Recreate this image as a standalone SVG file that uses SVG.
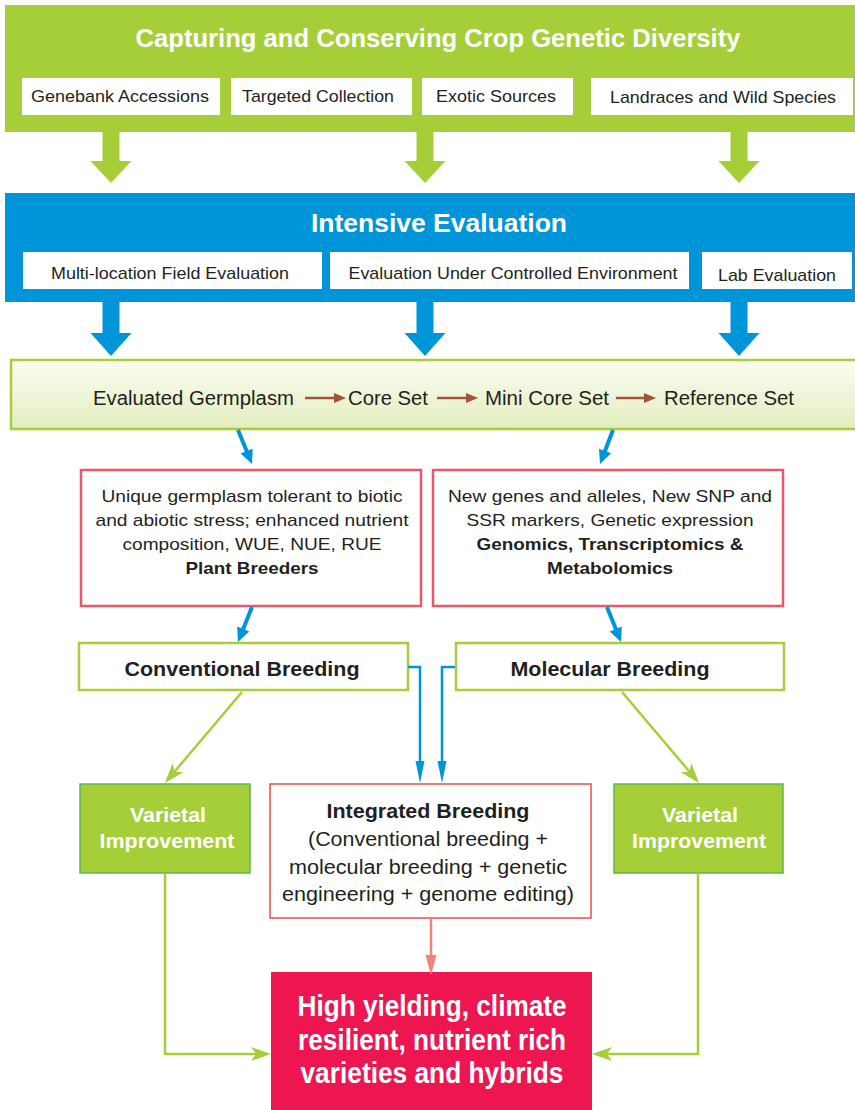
<svg xmlns="http://www.w3.org/2000/svg" width="855" height="1110" viewBox="0 0 855 1110">
<style>
text{font-family:"Liberation Sans",Arial,sans-serif;fill:#231f20;text-anchor:middle}
.b{font-weight:bold}
.w{fill:#fff}
.lbl{font-size:17px}
.wbox{fill:#fff}
.pink{fill:#fff;stroke:#e9566d;stroke-width:2.5}
.gbox{fill:#fff;stroke:#a6ce39;stroke-width:2.5}
.vbox{fill:#a6ce39;stroke:#5cb947;stroke-width:1.5}
.thickBlue{stroke:#0095d9;stroke-width:4;fill:none}
.thinBlue{stroke:#0095d9;stroke-width:2.5;fill:none}
.green{stroke:#a6ce39;stroke-width:2.5;fill:none}
.salmon{stroke:#f28379;stroke-width:2.5;fill:none}
.brown{stroke:#a4523a;stroke-width:2.5;fill:none}
</style>
<defs>
<linearGradient id="bandGrad" x1="0" y1="0" x2="0" y2="1">
<stop offset="0" stop-color="#fbfdf3"/>
<stop offset="1" stop-color="#e2edbe"/>
</linearGradient>
<marker id="ahBlue" markerUnits="userSpaceOnUse" viewBox="-10 -10 30 20" refX="0" refY="0" markerWidth="30" markerHeight="20" orient="auto" overflow="visible">
<path d="M10,0 L-4,-6.5 L-4,6.5 z" fill="#0095d9"/>
</marker>
<marker id="ahBlueThin" markerUnits="userSpaceOnUse" viewBox="-10 -10 40 20" refX="0" refY="0" markerWidth="40" markerHeight="20" orient="auto" overflow="visible">
<path d="M20,0 L-2,-4.5 L-2,4.5 z" fill="#0095d9"/>
</marker>
<marker id="ahGreen" markerUnits="userSpaceOnUse" viewBox="-10 -10 30 20" refX="0" refY="0" markerWidth="30" markerHeight="20" orient="auto" overflow="visible">
<path d="M14,0 L-6,-7 L-1,0 L-6,7 z" fill="#a6ce39"/>
</marker>
<marker id="ahSalmon" markerUnits="userSpaceOnUse" viewBox="-10 -10 40 20" refX="0" refY="0" markerWidth="40" markerHeight="20" orient="auto" overflow="visible">
<path d="M18,0 L-2,-5.5 L-2,5.5 z" fill="#f28379"/>
</marker>
<marker id="ahBrown" markerUnits="userSpaceOnUse" viewBox="-10 -10 30 20" refX="0" refY="0" markerWidth="30" markerHeight="20" orient="auto" overflow="visible">
<path d="M10,0 L-2,-5 L-2,5 z" fill="#a4523a"/>
</marker>
</defs>
<rect width="855" height="1110" fill="#fff"/>

<g id="capture">
<rect x="5" y="5" width="850" height="127" fill="#a6ce39"/>
<text x="438" y="47" class="b w" font-size="26" textLength="605" lengthAdjust="spacingAndGlyphs">Capturing and Conserving Crop Genetic Diversity</text>
<rect class="wbox" x="22" y="78" width="198" height="37"/>
<rect class="wbox" x="231" y="78" width="181" height="37"/>
<rect class="wbox" x="422" y="78" width="151" height="37"/>
<rect class="wbox" x="591" y="78" width="262" height="37"/>
<text class="lbl" x="120" y="102" textLength="178" lengthAdjust="spacingAndGlyphs">Genebank Accessions</text>
<text class="lbl" x="318" y="102" textLength="152" lengthAdjust="spacingAndGlyphs">Targeted Collection</text>
<text class="lbl" x="496" y="102" textLength="120" lengthAdjust="spacingAndGlyphs">Exotic Sources</text>
<text class="lbl" x="723" y="103" textLength="226" lengthAdjust="spacingAndGlyphs">Landraces and Wild Species</text>
</g>

<g id="capture-arrows" fill="#a6ce39">
<polygon points="102.5,132 119.5,132 119.5,161 131.5,161 111,183 90.5,161 102.5,161"/>
<polygon points="416.5,132 433.5,132 433.5,161 445.5,161 425,183 404.5,161 416.5,161"/>
<polygon points="730.5,132 747.5,132 747.5,161 759.5,161 739,183 718.5,161 730.5,161"/>
</g>

<g id="evaluation">
<rect x="5" y="193" width="850" height="109" fill="#0095d9"/>
<text x="439" y="232" class="b w" font-size="26" textLength="256" lengthAdjust="spacingAndGlyphs">Intensive Evaluation</text>
<rect class="wbox" x="23" y="252" width="299" height="37"/>
<rect class="wbox" x="330" y="252" width="359" height="37"/>
<rect class="wbox" x="702" y="252" width="150" height="37"/>
<text class="lbl" x="170" y="279" textLength="238" lengthAdjust="spacingAndGlyphs">Multi-location Field Evaluation</text>
<text class="lbl" x="513" y="279" textLength="329" lengthAdjust="spacingAndGlyphs">Evaluation Under Controlled Environment</text>
<text class="lbl" x="777" y="281" textLength="118" lengthAdjust="spacingAndGlyphs">Lab Evaluation</text>
</g>

<g id="evaluation-arrows" fill="#0095d9">
<polygon points="102.5,302 119.5,302 119.5,333 131.5,333 111,356 90.5,333 102.5,333"/>
<polygon points="416.5,302 433.5,302 433.5,333 445.5,333 425,356 404.5,333 416.5,333"/>
<polygon points="730.5,302 747.5,302 747.5,333 759.5,333 739,356 718.5,333 730.5,333"/>
</g>

<g id="germplasm">
<rect x="11" y="360" width="846" height="69" fill="url(#bandGrad)" stroke="#a6ce39" stroke-width="2.5"/>
<text x="193.5" y="405" font-size="20" textLength="201" lengthAdjust="spacingAndGlyphs">Evaluated Germplasm</text>
<text x="388" y="405" font-size="20" textLength="80" lengthAdjust="spacingAndGlyphs">Core Set</text>
<text x="547" y="405" font-size="20" textLength="124" lengthAdjust="spacingAndGlyphs">Mini Core Set</text>
<text x="729" y="405" font-size="20" textLength="130" lengthAdjust="spacingAndGlyphs">Reference Set</text>
<line class="brown" x1="305" y1="398" x2="336" y2="398" marker-end="url(#ahBrown)"/>
<line class="brown" x1="437" y1="398" x2="468" y2="398" marker-end="url(#ahBrown)"/>
<line class="brown" x1="616" y1="398" x2="646" y2="398" marker-end="url(#ahBrown)"/>
</g>

<g id="unique-germplasm">
<rect class="pink" x="81" y="470" width="340" height="136"/>
<text x="252" y="502" font-size="17" textLength="301" lengthAdjust="spacingAndGlyphs">Unique germplasm tolerant to biotic</text>
<text x="252" y="526" font-size="17" textLength="313" lengthAdjust="spacingAndGlyphs">and abiotic stress; enhanced nutrient</text>
<text x="252" y="550" font-size="17" textLength="259" lengthAdjust="spacingAndGlyphs">composition, WUE, NUE, RUE</text>
<text x="252" y="574" font-size="17" class="b" textLength="133" lengthAdjust="spacingAndGlyphs">Plant Breeders</text>
</g>

<g id="new-genes">
<rect class="pink" x="433" y="470" width="350" height="136"/>
<text x="610" y="502" font-size="17" textLength="324" lengthAdjust="spacingAndGlyphs">New genes and alleles, New SNP and</text>
<text x="610" y="526" font-size="17" textLength="287" lengthAdjust="spacingAndGlyphs">SSR markers, Genetic expression</text>
<text x="610" y="550" font-size="17" class="b" textLength="267" lengthAdjust="spacingAndGlyphs">Genomics, Transcriptomics &amp;</text>
<text x="610" y="574" font-size="17" class="b" textLength="126" lengthAdjust="spacingAndGlyphs">Metabolomics</text>
</g>

<g id="conventional">
<rect class="gbox" x="79" y="643" width="329" height="47"/>
<text x="242" y="676" font-size="21" class="b" textLength="235" lengthAdjust="spacingAndGlyphs">Conventional Breeding</text>
</g>

<g id="molecular">
<rect class="gbox" x="456" y="643" width="328" height="47"/>
<text x="610" y="676" font-size="21" class="b" textLength="199" lengthAdjust="spacingAndGlyphs">Molecular Breeding</text>
</g>

<g id="varietal-left">
<rect class="vbox" x="80" y="784" width="170" height="89"/>
<text x="168" y="822" font-size="21" class="b w" textLength="76" lengthAdjust="spacingAndGlyphs">Varietal</text>
<text x="167" y="848" font-size="21" class="b w" textLength="135" lengthAdjust="spacingAndGlyphs">Improvement</text>
</g>

<g id="varietal-right">
<rect class="vbox" x="614" y="784" width="169" height="89"/>
<text x="700" y="822" font-size="21" class="b w" textLength="76" lengthAdjust="spacingAndGlyphs">Varietal</text>
<text x="699" y="848" font-size="21" class="b w" textLength="134" lengthAdjust="spacingAndGlyphs">Improvement</text>
</g>

<g id="integrated">
<rect x="270" y="784" width="321" height="134" fill="#fff" stroke="#e94b4f" stroke-width="1.5"/>
<text x="428" y="818" font-size="20" class="b" textLength="203" lengthAdjust="spacingAndGlyphs">Integrated Breeding</text>
<text x="428" y="846" font-size="20" textLength="240" lengthAdjust="spacingAndGlyphs">(Conventional breeding +</text>
<text x="428" y="874" font-size="20" textLength="278" lengthAdjust="spacingAndGlyphs">molecular breeding + genetic</text>
<text x="428" y="901" font-size="20" textLength="292" lengthAdjust="spacingAndGlyphs">engineering + genome editing)</text>
</g>

<g id="outcome">
<rect x="271" y="972" width="321" height="140" fill="#ed1651"/>
<text x="432" y="1016" font-size="29" class="b w" textLength="269" lengthAdjust="spacingAndGlyphs">High yielding, climate</text>
<text x="432" y="1050" font-size="29" class="b w" textLength="268" lengthAdjust="spacingAndGlyphs">resilient, nutrient rich</text>
<text x="432" y="1083" font-size="29" class="b w" textLength="263" lengthAdjust="spacingAndGlyphs">varieties and hybrids</text>
</g>

<g id="connectors">
<line class="thickBlue" x1="238" y1="430" x2="248.2" y2="454.8" marker-end="url(#ahBlue)"/>
<line class="thickBlue" x1="613" y1="430" x2="603.6" y2="454.7" marker-end="url(#ahBlue)"/>
<line class="thickBlue" x1="252" y1="607" x2="241.7" y2="632.7" marker-end="url(#ahBlue)"/>
<line class="thickBlue" x1="607" y1="607" x2="617.3" y2="632.7" marker-end="url(#ahBlue)"/>
<path class="thinBlue" d="M408,667 H420 V763" marker-end="url(#ahBlueThin)"/>
<path class="thinBlue" d="M455,667 H442 V763" marker-end="url(#ahBlueThin)"/>
<line class="green" x1="242" y1="692" x2="174" y2="772.3" marker-end="url(#ahGreen)"/>
<line class="green" x1="622" y1="692" x2="690" y2="772.3" marker-end="url(#ahGreen)"/>
<path class="green" d="M165,873 V1054 H257" marker-end="url(#ahGreen)"/>
<path class="green" d="M698,873 V1054 H606" marker-end="url(#ahGreen)"/>
<line class="salmon" x1="431" y1="918" x2="431" y2="957" marker-end="url(#ahSalmon)"/>
</g>
</svg>
